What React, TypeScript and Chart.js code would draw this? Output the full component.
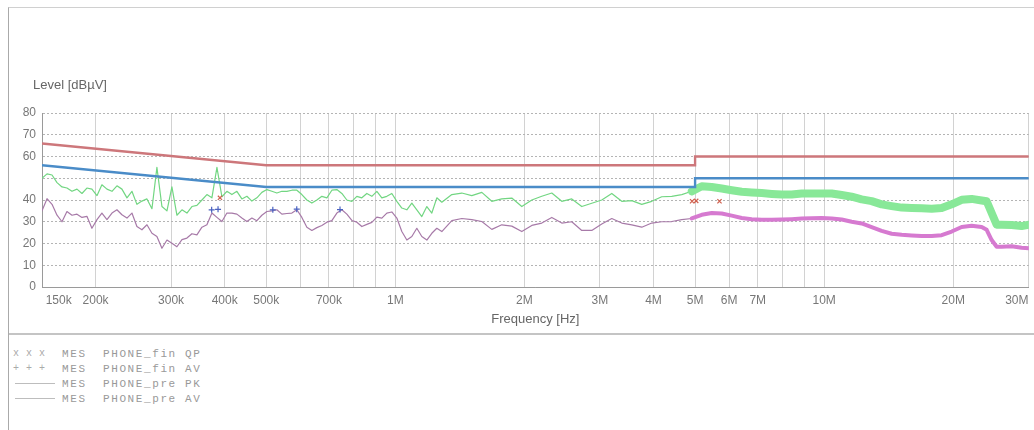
import React, { useEffect, useRef } from 'react';
import { Chart, registerables } from 'chart.js';

Chart.register(...registerables);

// Frequencies in MHz of the pre-scan sweep
const freqMHz = [
  0.1500, 0.1541, 0.1583, 0.1626, 0.1670, 0.1715, 0.1762, 0.1810, 0.1859, 0.1909,
  0.1961, 0.2015, 0.2069, 0.2126, 0.2184, 0.2243, 0.2304, 0.2367, 0.2431, 0.2497,
  0.2565, 0.2635, 0.2707, 0.2780, 0.2856, 0.2934, 0.3013, 0.3095, 0.3180, 0.3266,
  0.3355, 0.3446, 0.3540, 0.3636, 0.3735, 0.3837, 0.3941, 0.4048, 0.4158, 0.4271,
  0.4387, 0.4507, 0.4629, 0.4755, 0.4884, 0.5017, 0.5154, 0.5294, 0.5438, 0.5586,
  0.5738, 0.5894, 0.6054, 0.6219, 0.6388, 0.6562, 0.6740, 0.6924, 0.7112, 0.7305,
  0.7504, 0.7708, 0.7918, 0.8133, 0.8354, 0.8581, 0.8815, 0.9055, 0.9301, 0.9554,
  0.9814, 1.0081, 1.0355, 1.0637, 1.0926, 1.1223, 1.1528, 1.1842, 1.2164, 1.2495,
  1.2835,
  1.3543, 1.4290, 1.5078, 1.5909, 1.6786, 1.7712, 1.8689, 1.9719, 2.0806, 2.1954,
  2.3164, 2.4442, 2.5789, 2.7211, 2.8712, 3.0295, 3.1966, 3.3728, 3.5588, 3.7550,
  3.9621, 4.1806, 4.4111, 4.6543, 4.9110, 5.1818, 5.4675, 5.7690, 6.0871, 6.4228,
  6.7769, 7.1506, 7.5449, 7.9610, 8.3999, 8.8631, 9.3519, 9.8676, 10.412, 10.986,
  11.592, 12.231, 12.905, 13.617, 14.368, 15.160, 15.996, 16.878, 17.809, 18.791,
  19.827, 20.920, 22.074, 23.291,
  23.925, 24.576, 25.245, 25.931, 27.361, 28.869, 30.0,
];

// MES PHONE_pre PK (dBµV)
const prePK = [
  50, 52, 51.5, 48, 46, 45.5, 44, 45, 43, 45.5,
  45, 42, 47, 45, 44, 46.5, 45, 41, 44, 38,
  39.5, 40.5, 36, 55, 37, 35, 46, 33, 35.5, 34,
  37, 37.5, 40, 42.5, 41, 55, 41.5, 44, 42.5, 44,
  40.5, 41.7, 39.5, 41, 43.5, 44.8, 44, 43.2, 44, 44,
  44.5, 44.5, 42.5, 40, 38.6, 40, 41.7, 41, 44.5, 44.8,
  43, 40, 39.4, 41.7, 41, 43, 41.7, 44, 41, 41.7,
  43, 39.4, 36.3, 35.5, 38.6, 35.5, 32.4, 37, 34, 41,
  39,
  42.5, 43.2, 42, 43.5, 39.4, 40.5, 40.9, 37, 40, 41.7,
  43.2, 39.4, 40.5, 37, 38.5, 40, 43, 39.4, 39.7, 38,
  39.4, 41.5, 41.7, 42.5, 44, 46.3, 46, 45.3, 44.5, 43.8,
  43.5, 43.2, 42.8, 42.5, 42.5, 43, 43, 43, 43, 42.3,
  41.5, 40.3, 39.5, 38, 37.2, 36.5, 36.3, 36.2, 36, 36.3,
  38, 40.1, 40.5, 39.8,
  39.4, 34, 28.6, 28.6, 28.5, 28, 28.6,
];

// MES PHONE_pre AV (dBµV)
const preAV = [
  35, 40.6, 38, 33, 30, 34.7, 33, 33.5, 32, 32.5,
  27, 31, 34, 31, 34, 35.5, 33.2, 31.7, 34, 27.8,
  26.3, 28.6, 24.7, 23.2, 17.8, 21.6, 20.1, 18.5, 21.8, 22.5,
  24.5, 24, 27.5, 28.6, 34, 32, 30.1, 34, 34, 33.5,
  31.7, 30.1, 31.7, 30.5, 33, 34.7, 35, 35.5, 33.5, 33.8,
  34, 35.5, 32, 27.5, 26, 27.3, 28.3, 29.8, 30.5, 34,
  35.5, 33.5, 30.6, 29.8, 27.8, 28.8, 29.7, 32.1, 31.7, 34,
  34.5, 31.7, 25.5, 21.6, 23.2, 27, 23.2, 21.6, 24.7, 27,
  25.5,
  30.5, 31.5, 31, 30.1, 26.5, 28.6, 28, 25.5, 28.3, 29.4,
  32, 29.4, 30, 26, 26, 29, 31.5, 29.4, 28.6, 27.5,
  29.4, 30, 30.1, 31, 31.5, 33.2, 34, 33.8, 32.8, 31.7,
  31.2, 30.9, 30.9, 31, 31.2, 31.5, 31.6, 31.7, 31.5, 31,
  30, 29.2, 27.5, 25.8, 24.5, 24, 23.7, 23.4, 23.4, 23.8,
  25.5, 27.6, 28.2, 27.6,
  26.3, 21.6, 18.5, 18.5, 18.7, 18, 17.8,
];

// Limit lines
const qpLimitFreq = [0.15, 0.5, 5, 5, 30];
const qpLimitLevel = [66, 56, 56, 60, 60];
const avLimitFreq = [0.15, 0.5, 5, 5, 30];
const avLimitLevel = [56, 46, 46, 50, 50];

// Final measurement markers
const qpFinalFreq = [0.39, 4.92, 5.03, 5.7];
const qpFinalLevel = [41, 39.4, 39.6, 39.4];
const avFinalFreq = [0.373, 0.386, 0.518, 0.589, 0.743];
const avFinalLevel = [35.5, 35.7, 35.5, 35.8, 35.6];

// Axes
const xGridValues = [0.15, 0.2, 0.3, 0.4, 0.5, 0.6, 0.7, 0.8, 0.9, 1, 2, 3, 4, 5, 6, 7, 8, 9, 10, 20, 30];
const xTickLabels = ['150k', '200k', '300k', '400k', '500k', '', '700k', '', '', '1M', '2M', '3M', '4M', '5M', '6M', '7M', '', '', '10M', '20M', '30M'];
const yTickValues = [0, 10, 20, 30, 40, 60, 70, 80];
const yTitle = 'Level [dBµV]';
const xTitle = 'Frequency [Hz]';

const legendSymbols = ['x x x', '+ + +', 'line', 'line'];
const legendTexts = ['MES  PHONE_fin QP', 'MES  PHONE_fin AV', 'MES  PHONE_pre PK', 'MES  PHONE_pre AV'];

const FONT = '"Liberation Sans", Arial, sans-serif';

const pts = (xs: number[], ys: number[]) => xs.map((x, i) => ({ x, y: ys[i] }));

export default function App() {
  const ref = useRef<HTMLCanvasElement | null>(null);

  useEffect(() => {
    if (!ref.current) return;
    const titles = {
      id: 'axisTitles',
      afterDraw(chart: any) {
        const { ctx, chartArea } = chart;
        ctx.save();
        ctx.fillStyle = '#666';
        ctx.font = '13px ' + FONT;
        ctx.textBaseline = 'middle';
        ctx.textAlign = 'left';
        ctx.fillText(yTitle, 24, 77);
        ctx.textAlign = 'center';
        ctx.fillText(xTitle, (chartArea.left + chartArea.right) / 2, 311);
        ctx.restore();
      },
    };
    const thick = (ctx: any) => ctx.p0.parsed.x >= 4.9;
    const chart = new Chart(ref.current, {
      type: 'line',
      data: {
        datasets: [
          {
            label: 'QP final',
            data: pts(qpFinalFreq, qpFinalLevel),
            showLine: false,
            pointStyle: 'crossRot',
            pointRadius: 3,
            borderColor: '#d0604e',
            borderWidth: 1.2,
          },
          {
            label: 'AV final',
            data: pts(avFinalFreq, avFinalLevel),
            showLine: false,
            pointStyle: 'cross',
            pointRadius: 3,
            borderColor: '#4a62c0',
            borderWidth: 1.2,
          },
          {
            label: 'QP limit',
            data: pts(qpLimitFreq, qpLimitLevel),
            borderColor: '#cd777b',
            borderWidth: 2.4,
            pointRadius: 0,
          },
          {
            label: 'AV limit',
            data: pts(avLimitFreq, avLimitLevel),
            borderColor: '#4a8cc8',
            borderWidth: 2.4,
            pointRadius: 0,
          },
          {
            label: 'pre AV',
            data: pts(freqMHz, preAV),
            borderColor: '#a77aa8',
            borderWidth: 1.2,
            pointRadius: 0,
            borderCapStyle: 'round',
            borderJoinStyle: 'round',
            segment: {
              borderWidth: (c: any) => (thick(c) ? 4 : 1.2),
              borderColor: (c: any) => (thick(c) ? '#d67ad0' : '#a77aa8'),
            },
          },
          {
            label: 'pre PK',
            data: pts(freqMHz, prePK),
            borderColor: '#72d682',
            borderWidth: 1.2,
            pointRadius: 0,
            borderCapStyle: 'round',
            borderJoinStyle: 'round',
            segment: {
              borderWidth: (c: any) => (thick(c) ? 8 : 1.2),
              borderColor: (c: any) => (thick(c) ? '#88e898' : '#72d682'),
            },
          },
        ],
      },
      options: {
        responsive: false,
        animation: false,
        devicePixelRatio: 1,
        layout: { padding: { left: 0, right: 4, top: 105, bottom: 0 } },
        plugins: { legend: { display: false }, tooltip: { enabled: false }, title: { display: false } },
        scales: {
          x: {
            type: 'logarithmic',
            min: 0.15,
            max: 30,
            afterBuildTicks: (s: any) => {
              s.ticks = xGridValues.map((v) => ({ value: v }));
            },
            afterFit: (s: any) => {
              s.height = 46;
              s.paddingLeft = 0;
              s.paddingRight = 0;
            },
            ticks: {
              autoSkip: false,
              maxRotation: 0,
              minRotation: 0,
              padding: 6,
              color: '#777',
              font: { family: FONT, size: 12 },
              callback: (v: any) => {
                const idx = xGridValues.indexOf(Number(v));
                const lab = idx >= 0 ? xTickLabels[idx] : '';
                if (idx === 0) return '          ' + lab;
                if (idx === xGridValues.length - 1) return lab + '\u2002\u2002\u2002\u2002';
                return lab;
              },
            },
            grid: { color: '#d2d2d2', lineWidth: 1, drawTicks: false },
            border: { display: true, color: '#9a9a9a', width: 1 },
          },
          y: {
            min: 0,
            max: 80,
            afterFit: (s: any) => {
              s.width = 33;
            },
            ticks: {
              stepSize: 10,
              padding: 6,
              color: '#777',
              font: { family: FONT, size: 12 },
              callback: (v: any) => (yTickValues.includes(Number(v)) ? String(v) : ''),
            },
            grid: { color: '#b4b4b4', lineWidth: 1, drawTicks: false },
            border: { display: true, color: '#9a9a9a', width: 1, dash: [2, 2] },
          },
        },
      } as any,
      plugins: [titles],
    });
    return () => chart.destroy();
  }, []);

  return (
    <div
      style={{
        position: 'fixed',
        left: 8,
        top: 7,
        width: 1026,
        height: 423,
        boxSizing: 'border-box',
        borderLeft: '1px solid #aaaaaa',
        borderTop: '1px solid #d0d0d0',
        background: '#fff',
        overflow: 'hidden',
      }}
    >
      <canvas ref={ref} width={1025} height={325} style={{ display: 'block', width: 1025, height: 325 }} />
      <div style={{ height: 0, borderTop: '2px solid #c4c4c4' }} />
      <div style={{ paddingTop: 11, color: '#9a9a9a' }}>
        {legendTexts.map((t, i) => (
          <div key={i} style={{ display: 'flex', alignItems: 'center', height: 15 }}>
            <div style={{ width: 49, marginLeft: 4, display: 'flex', alignItems: 'center' }}>
              {legendSymbols[i] === 'line' ? (
                <div style={{ width: 40, marginLeft: 2, height: 0, borderTop: '1px solid #bdbdbd' }} />
              ) : (
                <span style={{ fontFamily: '"Liberation Mono", monospace', fontSize: 10, letterSpacing: 0.5, color: '#aaa', whiteSpace: 'pre' }}>
                  {legendSymbols[i]}
                </span>
              )}
            </div>
            <span
              style={{
                fontFamily: '"Liberation Mono", monospace',
                fontSize: 11,
                letterSpacing: 1.6,
                whiteSpace: 'pre',
                color: '#999',
              }}
            >
              {t}
            </span>
          </div>
        ))}
      </div>
    </div>
  );
}
